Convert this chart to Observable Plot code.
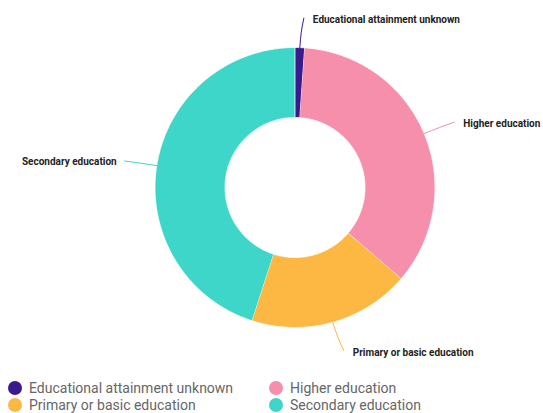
<!DOCTYPE html>
<html>
<head>
<meta charset="utf-8">
<script src="https://cdn.jsdelivr.net/npm/d3@7"></script>
<script src="https://cdn.jsdelivr.net/npm/@observablehq/plot@0.6"></script>
<style>
  html, body { margin: 0; padding: 0; background: #fff; }
  body { width: 543px; height: 413px; overflow: hidden; font-family: Roboto, sans-serif; }
  .legend { display: grid; grid-template-columns: 261px 261px; padding: 3px 0 0 8px; }
  .legend .item { display: flex; align-items: center; height: 17px; font-size: 14px; color: #666; white-space: nowrap; }
  .legend .dot { width: 14px; height: 14px; border-radius: 50%; margin-right: 7px; flex: none; }
</style>
</head>
<body>
<script>
// ---- data ----
const categories = ["Educational attainment unknown", "Higher education", "Primary or basic education", "Secondary education"];
const shares = [1.1, 35.2, 18.7, 45.0];
const colors = ["#3b1a8d", "#f68fab", "#fdb843", "#3dd6c9"];

// ---- layout ----
const W = 543, H = 376;
const cx = 294.5, cy = 187, R = 140, innerRatio = 0.5;

const rows = categories.map((name, i) => ({name, value: shares[i]}));
const arcs = d3.pie().sort(null).value(d => d.value)(rows);

// annular sector outlines in radius units (y up)
const slicePts = [];
for (const a of arcs) {
  const a0 = a.startAngle, a1 = a.endAngle;
  const n = Math.max(2, Math.ceil((a1 - a0) / (Math.PI / 360)));
  for (let i = 0; i <= n; i++) {
    const t = a0 + (a1 - a0) * i / n;
    slicePts.push({name: a.data.name, x: Math.sin(t), y: Math.cos(t)});
  }
  for (let i = n; i >= 0; i--) {
    const t = a0 + (a1 - a0) * i / n;
    slicePts.push({name: a.data.name, x: innerRatio * Math.sin(t), y: innerRatio * Math.cos(t)});
  }
}

// leader lines & label anchors, derived from slice mid-angles
const leaderPts = [];
const labels = [];
const bend = 3 / R;
for (const a of arcs) {
  const m = (a.startAngle + a.endAngle) / 2;
  const s = Math.sin(m), c = Math.cos(m);
  const side = s >= 0 ? 1 : -1;
  const name = a.data.name;
  leaderPts.push({name, x: s * 1.0, y: c * 1.0});
  leaderPts.push({name, x: s * 1.11 + side * bend * 0.3, y: c * 1.11});
  const ex = s * 1.21 + side * bend, ey = c * 1.21;
  leaderPts.push({name, x: ex, y: ey});
  labels.push({name, x: ex, y: ey, side});
}

const chart = Plot.plot({
  width: W,
  height: H,
  margin: 0,
  style: {fontFamily: "Roboto, sans-serif", background: "#fff"},
  x: {domain: [-cx / R, (W - cx) / R], axis: null},
  y: {domain: [-(H - cy) / R, cy / R], axis: null},
  color: {domain: categories, range: colors},
  marks: [
    Plot.line(slicePts, {x: "x", y: "y", z: "name", fill: "name", stroke: "white", strokeWidth: 0.8, strokeLinejoin: "round", curve: "linear"}),
    Plot.line(leaderPts, {x: "x", y: "y", z: "name", stroke: "name", strokeWidth: 1, curve: "natural"}),
    Plot.text(labels.filter(d => d.side > 0), {x: "x", y: "y", text: "name", textAnchor: "start", dx: 9, dy: 2, fontSize: 10, fontWeight: 700, fill: "#222"}),
    Plot.text(labels.filter(d => d.side < 0), {x: "x", y: "y", text: "name", textAnchor: "end", dx: -8, dy: 1, fontSize: 10, fontWeight: 700, fill: "#222"})
  ]
});
document.body.appendChild(chart);

// legend
const legend = document.createElement("div");
legend.className = "legend";
categories.forEach((name, i) => {
  const item = document.createElement("div");
  item.className = "item";
  const dot = document.createElement("span");
  dot.className = "dot";
  dot.style.background = colors[i];
  const label = document.createElement("span");
  label.textContent = name;
  item.appendChild(dot);
  item.appendChild(label);
  legend.appendChild(item);
});
document.body.appendChild(legend);
</script>
</body>
</html>
